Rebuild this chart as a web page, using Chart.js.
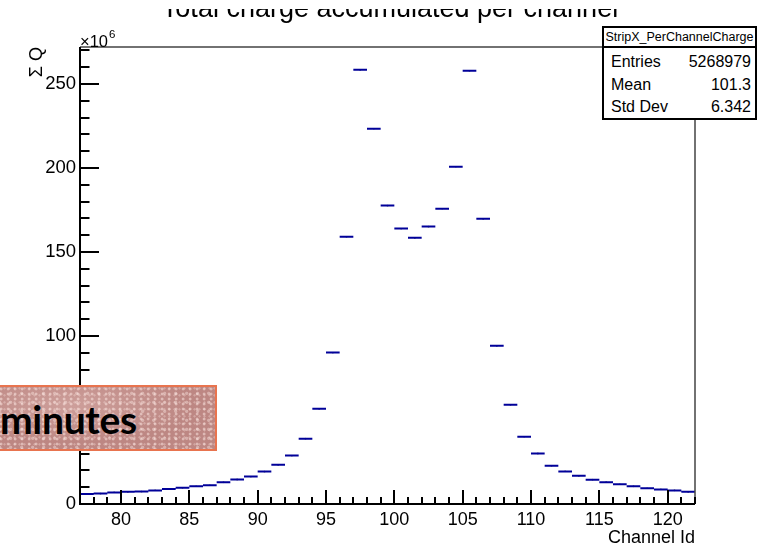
<!DOCTYPE html>
<html>
<head>
<meta charset="utf-8">
<script src="https://cdn.jsdelivr.net/npm/chart.js@4"></script>
<style>
body { margin: 0; background: #fff; overflow: hidden; }
#wrap { position: relative; width: 766px; height: 547px; }
#stats { position: absolute; left: 602px; top: 26px; width: 151px; height: 90px; border: 2px solid #000; background: #fff;
  font-family: "Liberation Sans", Arial, sans-serif; color: #000; }
#stats .hd { height: 18px; border-bottom: 2px solid #000; font-size: 12.5px; text-align: center; line-height: 19px; }
#stats .rows { padding-top: 3px; }
#stats .row { display: flex; justify-content: space-between; padding: 0 4px 0 7px; font-size: 16px; height: 22.5px; line-height: 22.5px; }
#stamp { position: absolute; left: -10px; top: 385px; width: 223px; height: 62px; border: 2px solid #e8744f; overflow: hidden;
  background-color: #bd8783;
  background-image:
    radial-gradient(circle at 30% 40%, rgba(255,235,230,.5) 0 1px, transparent 1.8px),
    radial-gradient(circle at 70% 70%, rgba(255,235,230,.4) 0 1.2px, transparent 2px),
    radial-gradient(circle at 50% 20%, rgba(255,235,230,.3) 0 0.8px, transparent 1.5px),
    radial-gradient(ellipse at 35% 30%, rgba(255,230,225,.25), transparent 60%);
  background-size: 7px 5px, 11px 9px, 5px 7px, 100% 100%; }
#stamp span { position: absolute; left: 8px; top: 13px; font-family: Lato, "DejaVu Sans", sans-serif; font-weight: bold; font-size: 39px; line-height: 39px; letter-spacing: -0.3px; color: #000; }
</style>
</head>
<body>
<div id="wrap">
  <canvas id="c" width="766" height="547"></canvas>
  <div id="stats">
    <div class="hd">StripX_PerChannelCharge</div>
    <div class="rows">
      <div class="row"><span>Entries</span><span>5268979</span></div>
      <div class="row"><span>Mean</span><span>101.3</span></div>
      <div class="row"><span>Std Dev</span><span>6.342</span></div>
    </div>
  </div>
  <div id="stamp"><span>minutes</span></div>
</div>
<script>
// channel (bin low edge) and accumulated charge per bin, in units of 1e6
var channels = [77, 78, 79, 80, 81, 82, 83, 84, 85, 86, 87, 88, 89, 90, 91, 92, 93, 94, 95, 96, 97, 98, 99,
                100, 101, 102, 103, 104, 105, 106, 107, 108, 109, 110, 111, 112, 113, 114, 115, 116, 117, 118, 119, 120, 121];
var charge = [6.0, 6.2, 6.9, 7.3, 7.4, 8.1, 8.9, 9.7, 10.5, 11.1, 12.9, 14.6, 16.3, 19.3, 23.4, 28.8, 38.9, 56.7, 90.1, 159.1, 258.5, 223.4, 177.6,
              163.9, 158.5, 165.1, 175.8, 200.8, 257.9, 169.8, 94.2, 59.1, 40.1, 30.1, 22.8, 19.4, 16.8, 14.5, 12.9, 11.7, 10.5, 9.3, 8.7, 8.1, 7.3];
var xTicks = [80, 85, 90, 95, 100, 105, 110, 115, 120];
var yTicks = [0, 50, 100, 150, 200, 250];
var binWidth = 1;
var xRange = [77, 122];
var yRange = [0, 272];

var steps = [];
var centers = [];
channels.forEach(function (ch, i) {
    steps.push({x: ch, y: charge[i]}, {x: ch + binWidth, y: charge[i]}, {x: ch + binWidth, y: null});
    centers.push({x: ch + binWidth / 2, y: charge[i]});
});

var rootAxes = {
    id: 'rootAxes',
    afterDraw: function (chart) {
        var ctx = chart.ctx, a = chart.chartArea, x = chart.scales.x, y = chart.scales.y;
        ctx.save();
        ctx.strokeStyle = '#444';
        ctx.lineWidth = 1.5;
        ctx.beginPath();
        ctx.moveTo(a.left, a.top);
        ctx.lineTo(a.right, a.top);
        ctx.lineTo(a.right, a.bottom);
        ctx.stroke();

        ctx.strokeStyle = '#000';
        ctx.lineWidth = 2;
        ctx.beginPath();
        ctx.moveTo(a.left, a.top);
        ctx.lineTo(a.left, a.bottom);
        ctx.lineTo(a.right, a.bottom);
        for (var v = xRange[0]; v <= xRange[1]; v++) {
            var px = Math.round(x.getPixelForValue(v));
            var len = v % 5 === 0 ? 14 : 7;
            ctx.moveTo(px, a.bottom);
            ctx.lineTo(px, a.bottom - len);
        }
        for (var w = 0; w <= yRange[1]; w += 10) {
            var py = Math.round(y.getPixelForValue(w));
            var l2 = w % 50 === 0 ? 19 : 9.5;
            ctx.moveTo(a.left, py);
            ctx.lineTo(a.left + l2, py);
        }
        ctx.stroke();

        // title, top part cut off as in the screenshot
        ctx.save();
        ctx.beginPath();
        ctx.rect(0, 9, chart.width, 20);
        ctx.clip();
        ctx.fillStyle = '#000';
        ctx.font = '27px "Liberation Sans", Arial, sans-serif';
        ctx.textAlign = 'center';
        ctx.textBaseline = 'alphabetic';
        ctx.fillText('Total charge accumulated per channel', 390, 16.5);
        ctx.restore();

        ctx.fillStyle = '#000';
        ctx.textAlign = 'left';
        ctx.font = '16.5px "Liberation Sans", Arial, sans-serif';
        ctx.fillText('\u00d710', a.left, 46.5);
        var wd = ctx.measureText('\u00d710').width;
        ctx.font = '11.5px "Liberation Sans", Arial, sans-serif';
        ctx.fillText('6', a.left + wd + 1, 38);
        ctx.restore();
    }
};

function useTicks(list) {
    return function (s) { s.ticks = list.map(function (v) { return {value: v}; }); };
}

new Chart(document.getElementById('c'), {
    type: 'line',
    data: {
        datasets: [{
            data: steps,
            borderColor: '#000099',
            borderWidth: 2,
            pointRadius: 0,
            spanGaps: false,
            fill: false
        }, {
            type: 'scatter',
            data: centers,
            pointStyle: 'rect',
            pointRadius: 1,
            pointBackgroundColor: '#000',
            pointBorderWidth: 0
        }]
    },
    options: {
        responsive: false,
        animation: false,
        layout: {padding: {top: 47, right: 71, left: 0, bottom: 0}},
        plugins: {legend: {display: false}, tooltip: {enabled: false}},
        scales: {
            x: {
                type: 'linear',
                min: xRange[0], max: xRange[1],
                afterBuildTicks: useTicks(xTicks),
                grid: {display: false, drawTicks: false},
                border: {display: false},
                ticks: {padding: 5, color: '#000',
                        font: {family: '"Liberation Sans", Arial, sans-serif', size: 18, lineHeight: 1.2}},
                title: {display: true, text: 'Channel Id', align: 'end', color: '#000', padding: {top: 0, bottom: 0},
                        font: {family: '"Liberation Sans", Arial, sans-serif', size: 18, lineHeight: 1}},
                afterFit: function (s) { s.height = 43; }
            },
            y: {
                min: yRange[0], max: yRange[1],
                afterBuildTicks: useTicks(yTicks),
                grid: {display: false, drawTicks: false},
                border: {display: false},
                ticks: {padding: 4, color: '#000',
                        font: {family: '"Liberation Sans", Arial, sans-serif', size: 18.5}},
                title: {display: true, text: '\u03a3 Q', align: 'end', color: '#000', padding: {top: 28, bottom: 0},
                        font: {family: '"Liberation Sans", Arial, sans-serif', size: 18, lineHeight: 1}},
                afterFit: function (s) { s.width = 80; }
            }
        }
    },
    plugins: [rootAxes]
});
</script>
</body>
</html>
